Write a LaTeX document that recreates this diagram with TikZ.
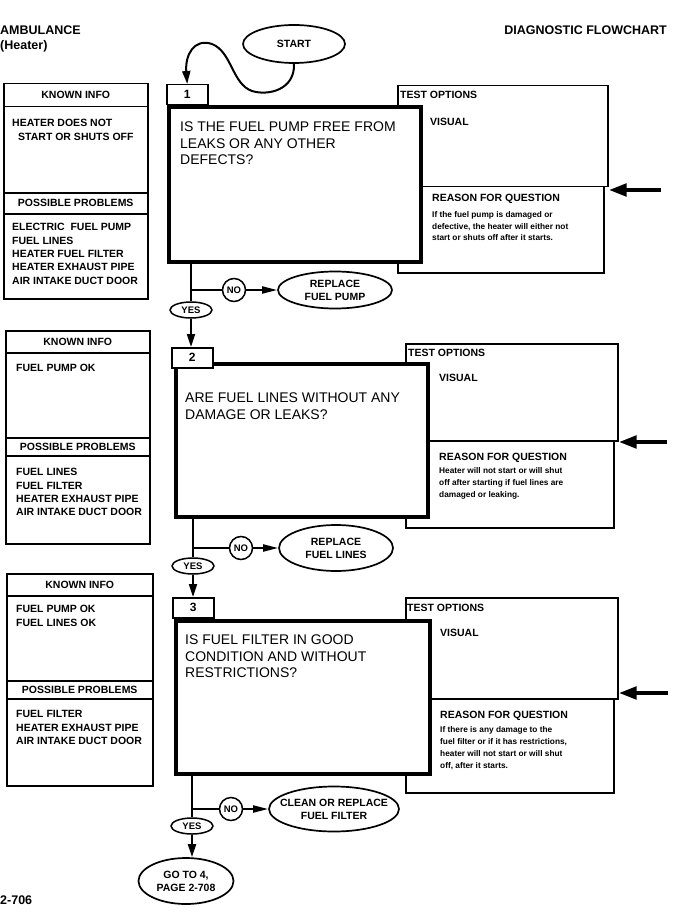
\documentclass[tikz,border=0pt]{standalone}
\usepackage{fontspec}
\setmainfont{Liberation Sans}
\usetikzlibrary{arrows.meta,shapes.geometric}
\begin{document}
\begin{tikzpicture}[x=1pt,y=-1pt,
  box/.style={draw, line width=1.5pt, fill=white, inner sep=0pt, anchor=north west},
  qbox/.style={draw, line width=4pt, fill=white, inner sep=0pt, anchor=north west},
  lbl/.style={font=\fontsize{10.5pt}{13pt}\selectfont\bfseries},
  hdr/.style={font=\fontsize{12.5pt}{16pt}\selectfont\bfseries, inner sep=0pt},
  items/.style={anchor=north west, inner sep=0pt, align=left, font=\fontsize{10.5pt}{13.3pt}\selectfont\bfseries},
  qtext/.style={anchor=north west, inner sep=0pt, align=left, font=\fontsize{14pt}{16.3pt}\selectfont},
  rtext/.style={anchor=north west, inner sep=0pt, align=left, font=\fontsize{8.3pt}{11.8pt}\selectfont\bfseries},
  ell/.style={draw, ellipse, line width=1.7pt, fill=white, inner sep=0pt, align=center, lbl},
  nocirc/.style={draw, circle, line width=1.5pt, fill=white, inner sep=0pt, minimum size=23pt, font=\fontsize{9.5pt}{11pt}\selectfont\bfseries},
  yesell/.style={draw, ellipse, line width=1.5pt, fill=white, inner sep=0pt, minimum width=42pt, minimum height=16pt, font=\fontsize{9.5pt}{11pt}\selectfont\bfseries},
  conn/.style={line width=2pt},
  arr/.style={conn, -{Triangle[length=13pt,width=8pt]}},
  noarr/.style={conn, -{Triangle[length=15pt,width=7pt]}},
  bigarr/.style={line width=4.5pt, -{Triangle[length=18pt,width=12pt]}},
  numbox/.style={box, minimum width=41pt, minimum height=20pt, font=\fontsize{12pt}{14pt}\selectfont\bfseries}
]
\useasboundingbox (0,0) rectangle (681,912);

% ---------- header ----------
\node[hdr, anchor=west] (amb) at (0,30) {AMBULANCE};
\node[hdr, anchor=west] (heat) at (0,46) {(Heater)};
\node[hdr, anchor=east] (diag) at (667,30) {DIAGNOSTIC FLOWCHART};
\node[hdr, anchor=west] (page) at (0,900) {2-706};

\node[ell, minimum width=102pt, minimum height=38pt] (start) at (294,44) {START};

% ================= SECTION 1 =================
\node[box, minimum width=144pt, minimum height=215pt] (k1) at (3,83) {};
\node[box, lbl, minimum width=144pt, minimum height=23pt] (k1h) at (3,83) {KNOWN INFO};
\node[box, lbl, minimum width=144pt, minimum height=21pt] (k1p) at (3,192) {POSSIBLE PROBLEMS};
\node[items] (k1i) at (12,119.3) {HEATER DOES NOT\\\hspace*{6pt}START OR SHUTS OFF};
\node[items] (k1q) at (12,223.3) {ELECTRIC\ \ FUEL PUMP\\FUEL LINES\\HEATER FUEL FILTER\\HEATER EXHAUST PIPE\\AIR INTAKE DUCT DOOR};

\node[box, minimum width=210pt, minimum height=101pt] (t1) at (397,85) {};
\node[box, minimum width=206pt, minimum height=86pt] (r1) at (397,186) {};
\node[qbox, minimum width=252pt, minimum height=155pt] (q1) at (167,105) {};
\node[numbox] (n1) at (166,84) {1};
\node[qtext] (q1t) at (180,122) {IS THE FUEL PUMP FREE FROM\\LEAKS OR ANY OTHER\\DEFECTS?};
\node[items] (t1t) at (400,91.3) {TEST OPTIONS};
\node[items] (t1v) at (430,118.3) {VISUAL};
\node[items] (r1h) at (432,194.3) {REASON FOR QUESTION};
\node[rtext] (r1t) at (432,211) {If the fuel pump is damaged or\\defective, the heater will either not\\start or shuts off after it starts.};
\coordinate (a1) at (661,190);
\draw[bigarr] (a1) -- (a1 -| t1.east);

\draw[conn, -{Triangle[length=13pt,width=8pt]}] (start.south) .. controls (295,90) and (268,96) .. (252,91)
  .. controls (232,84) and (232,52) .. (212,44) .. controls (194,38) and (185,55) .. (n1.north);

\node[nocirc] (no1) at (234,290) {NO};
\node[ell, minimum width=114pt, minimum height=37pt] (rep1) at (335,290) {REPLACE\\FUEL PUMP};
\node[yesell] (yes1) at (191,310) {YES};
\coordinate (b1) at (191,290);
\draw[conn] (q1.south -| yes1.north) -- (yes1.north);
\draw[conn] (b1) -- (no1.west);
\draw[noarr] (no1.east) -- (rep1.west);

% ================= SECTION 2 =================
\node[box, minimum width=144pt, minimum height=213pt] (k2) at (5,330) {};
\node[box, lbl, minimum width=144pt, minimum height=22pt] (k2h) at (5,330) {KNOWN INFO};
\node[box, lbl, minimum width=144pt, minimum height=18pt] (k2p) at (5,437) {POSSIBLE PROBLEMS};
\node[items] (k2i) at (16,364.3) {FUEL PUMP OK};
\node[items] (k2q) at (16,468.3) {FUEL LINES\\FUEL FILTER\\HEATER EXHAUST PIPE\\AIR INTAKE DUCT DOOR};

\node[box, minimum width=212pt, minimum height=97pt] (t2) at (405,343) {};
\node[box, minimum width=208pt, minimum height=87pt] (r2) at (405,440) {};
\node[qbox, minimum width=252pt, minimum height=153pt] (q2) at (174,362) {};
\node[numbox] (n2) at (171,347) {2};
\draw[arr] (yes1.south) -- (n2.north -| yes1.south);
\node[qtext] (q2t) at (185,393) {ARE FUEL LINES WITHOUT ANY\\DAMAGE OR LEAKS?};
\node[items] (t2t) at (408,349.3) {TEST OPTIONS};
\node[items] (t2v) at (439,374.3) {VISUAL};
\node[items] (r2h) at (439,453.3) {REASON FOR QUESTION};
\node[rtext] (r2t) at (439,467.5) {Heater will not start or will shut\\off after starting if fuel lines are\\damaged or leaking.};
\coordinate (a2) at (667,442);
\draw[bigarr] (a2) -- (a2 -| t2.east);

\node[nocirc] (no2) at (241,548) {NO};
\node[ell, minimum width=114pt, minimum height=46pt] (rep2) at (336,548) {REPLACE\\FUEL LINES};
\node[yesell] (yes2) at (193,566) {YES};
\coordinate (b2) at (193,548);
\draw[conn] (q2.south -| yes2.north) -- (yes2.north);
\draw[conn] (b2) -- (no2.west);
\draw[noarr] (no2.east) -- (rep2.west);

% ================= SECTION 3 =================
\node[box, minimum width=146pt, minimum height=212pt] (k3) at (6,573) {};
\node[box, lbl, minimum width=146pt, minimum height=22pt] (k3h) at (6,573) {KNOWN INFO};
\node[box, lbl, minimum width=146pt, minimum height=18pt] (k3p) at (6,680) {POSSIBLE PROBLEMS};
\node[items] (k3i) at (16,605.3) {FUEL PUMP OK\\FUEL LINES OK};
\node[items] (k3q) at (16,710.3) {FUEL FILTER\\HEATER EXHAUST PIPE\\AIR INTAKE DUCT DOOR};

\node[box, minimum width=212pt, minimum height=101pt] (t3) at (405,597) {};
\node[box, minimum width=208pt, minimum height=94pt] (r3) at (405,698) {};
\node[qbox, minimum width=254pt, minimum height=153pt] (q3) at (174,619) {};
\node[numbox] (n3) at (172,597) {3};
\draw[arr] (yes2.south) -- (n3.north -| yes2.south);
\node[qtext] (q3t) at (185,635) {IS FUEL FILTER IN GOOD\\CONDITION AND WITHOUT\\RESTRICTIONS?};
\node[items] (t3t) at (407,604.3) {TEST OPTIONS};
\node[items] (t3v) at (440,629.3) {VISUAL};
\node[items] (r3h) at (440,711.3) {REASON FOR QUESTION};
\node[rtext] (r3t) at (440,726.5) {If there is any damage to the\\fuel filter or if it has restrictions,\\heater will not start or will shut\\off, after it starts.};
\coordinate (a3) at (668,693);
\draw[bigarr] (a3) -- (a3 -| t3.east);

\node[nocirc] (no3) at (231,809) {NO};
\node[ell, minimum width=130pt, minimum height=45pt, inner xsep=-9pt] (rep3) at (334,809) {CLEAN OR REPLACE\\FUEL FILTER};
\node[yesell] (yes3) at (192,826) {YES};
\coordinate (b3) at (192,809);
\draw[conn] (q3.south -| yes3.north) -- (yes3.north);
\draw[conn] (b3) -- (no3.west);
\draw[noarr] (no3.east) -- (rep3.west);

\node[ell, minimum width=95pt, minimum height=46pt] (goto) at (186,881) {GO TO 4,\\PAGE 2-708};
\draw[arr] (yes3.south) -- (goto.north -| yes3.south);
\end{tikzpicture}
\end{document}
